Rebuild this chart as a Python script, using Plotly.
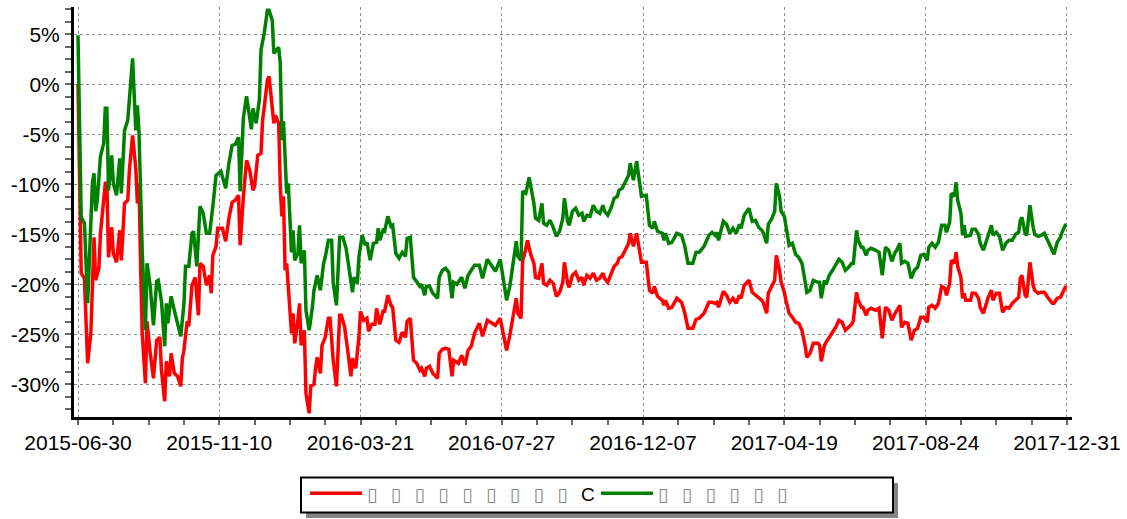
import plotly.graph_objects as go

# ---------------- data (x = trading-day index from 2015-06-30) ----------------
tick_days = [0, 88, 176, 264, 352, 440, 528, 616]
tick_labels = ["2015-06-30", "2015-11-10", "2016-03-21", "2016-07-27",
               "2016-12-07", "2017-04-19", "2017-08-24", "2017-12-31"]
y_ticks = [-30, -25, -20, -15, -10, -5, 0, 5]

BOX = '<span style="color:#8a8a8a">\u25af</span>'
SEP = "\u2002\u2009"
fund_name = (BOX + SEP) * 9 + "C"
bench_name = SEP.join([BOX] * 6)

fund_x = [0, 1, 2, 4, 5, 6, 8, 9, 10, 11,
          13, 14, 15, 17, 18, 19, 21, 22, 24, 26,
          27, 29, 31, 32, 34, 36, 37, 38, 39, 40,
          42, 43, 45, 47, 49, 51, 52, 54, 55, 57,
          58, 60, 62, 64, 65, 66, 68, 69, 71, 73,
          75, 76, 78, 80, 82, 83, 84, 86, 87, 90,
          92, 94, 96, 98, 100, 101, 103, 105, 107, 109,
          110, 112, 114, 115, 116, 118, 119, 120, 122, 123,
          125, 126, 127, 128, 129, 130, 132, 133, 134, 135,
          137, 138, 139, 141, 142, 144, 145, 147, 148, 149,
          151, 152, 154, 156, 157, 159, 161, 163, 164, 166,
          168, 170, 171, 173, 175, 176, 178, 180, 181, 183,
          185, 186, 188, 190, 191, 193, 195, 196, 198, 200,
          202, 204, 205, 207, 209, 211, 213, 214, 216, 217,
          219, 221, 224, 225, 227, 229, 231, 233, 234, 237,
          239, 241, 243, 245, 247, 250, 252, 255, 258, 260,
          263, 265, 267, 269, 271, 273, 274, 276, 277, 278,
          280, 282, 284, 285, 287, 289, 290, 292, 294, 296,
          298, 300, 302, 303, 305, 306, 308, 310, 312, 314,
          315, 317, 319, 321, 323, 325, 327, 328, 330, 332,
          334, 336, 337, 339, 341, 343, 344, 346, 348, 351,
          354, 356, 358, 359, 361, 364, 365, 366, 368, 370,
          373, 376, 378, 380, 383, 385, 387, 390, 393, 395,
          397, 398, 399, 402, 404, 406, 408, 410, 412, 413,
          415, 418, 420, 422, 424, 426, 427, 429, 430, 432,
          434, 435, 437, 438, 440, 441, 443, 445, 447, 449,
          451, 453, 454, 456, 458, 461, 462, 463, 465, 466,
          468, 470, 472, 474, 476, 478, 480, 482, 483, 485,
          486, 488, 489, 491, 492, 494, 497, 499, 501, 503,
          505, 507, 509, 510, 512, 513, 515, 517, 519, 521,
          523, 525, 527, 529, 530, 532, 534, 536, 538, 540,
          541, 543, 544, 546, 547, 548, 550, 551, 552, 553,
          556, 557, 559, 561, 562, 564, 566, 567, 569, 570,
          572, 574, 576, 578, 580, 582, 584, 586, 587, 588,
          590, 591, 593, 595, 596, 598, 600, 602, 604, 607,
          608, 610, 612, 613, 615, 616]
fund_ret = [0.0, -8.3, -18.9, -19.4, -23.2, -27.9, -24.9, -19.3, -15.3, -19.6,
            -18.4, -14.9, -13.2, -9.9, -9.9, -17.3, -14.3, -16.9, -17.8, -14.6,
            -17.6, -11.9, -11.6, -8.6, -5.1, -8.4, -11.9, -9.9, -18.2, -24.9,
            -29.9, -23.7, -26.9, -29.4, -25.6, -25.3, -28.6, -31.7, -27.7, -29.2,
            -26.9, -28.9, -29.2, -30.2, -27.4, -26.6, -23.7, -24.2, -20.1, -19.3,
            -23.1, -17.9, -18.2, -20.1, -19.1, -20.9, -17.1, -16.2, -14.4, -14.4,
            -15.7, -13.4, -11.8, -11.6, -11.1, -16.1, -11.3, -7.6, -8.6, -10.6,
            -10.2, -7.1, -6.9, -3.6, -2.3, 0.4, 0.8, -0.9, -3.9, -3.1,
            -3.9, -10.2, -13.2, -11.2, -18.6, -17.9, -22.9, -24.9, -22.9, -25.9,
            -23.6, -21.9, -26.1, -24.6, -30.9, -32.9, -30.2, -30.0, -28.4, -27.3,
            -28.9, -26.1, -25.3, -23.4, -23.4, -27.6, -30.2, -23.1, -23.1, -24.2,
            -26.6, -29.2, -27.4, -28.4, -25.3, -22.7, -23.6, -23.4, -24.7, -24.0,
            -24.0, -22.4, -24.0, -22.7, -22.7, -21.1, -22.1, -22.3, -25.6, -25.8,
            -24.8, -25.3, -23.7, -23.4, -27.6, -27.9, -28.6, -28.4, -29.2, -28.4,
            -28.2, -28.9, -29.4, -26.9, -26.5, -26.4, -26.5, -29.2, -27.6, -27.9,
            -27.1, -28.1, -26.6, -26.2, -24.9, -23.9, -25.2, -23.6, -23.9, -24.1,
            -23.4, -25.2, -26.6, -25.1, -23.4, -21.4, -22.9, -23.4, -17.6, -17.1,
            -15.6, -17.0, -17.9, -19.3, -19.4, -17.9, -19.9, -20.1, -19.6, -19.9,
            -21.2, -20.8, -19.8, -17.8, -19.9, -20.3, -19.1, -18.8, -19.6, -19.3,
            -20.1, -19.1, -19.4, -18.9, -19.6, -19.4, -18.9, -19.4, -19.8, -19.1,
            -18.2, -17.9, -17.4, -17.2, -16.6, -15.9, -14.9, -16.2, -14.9, -17.8,
            -17.8, -20.6, -20.9, -20.2, -21.2, -21.6, -22.1, -21.6, -22.4, -22.3,
            -21.4, -21.8, -22.9, -24.4, -24.4, -23.5, -23.4, -22.9, -21.8, -21.8,
            -21.9, -21.8, -22.3, -20.7, -21.1, -21.8, -21.4, -21.9, -21.1, -21.4,
            -20.1, -19.6, -20.8, -21.1, -21.3, -21.6, -21.9, -22.9, -20.9, -20.3,
            -19.6, -17.1, -18.6, -19.8, -20.8, -21.6, -22.9, -23.3, -23.8, -23.9,
            -24.6, -26.2, -27.3, -26.9, -25.9, -25.9, -26.1, -27.7, -26.1, -25.8,
            -25.3, -24.8, -24.3, -23.6, -23.8, -24.6, -24.3, -24.0, -23.6, -20.8,
            -21.6, -22.3, -22.3, -23.1, -22.6, -22.4, -22.6, -22.4, -25.4, -22.3,
            -22.6, -23.6, -22.9, -22.6, -22.1, -24.3, -23.8, -23.9, -25.6, -24.6,
            -24.4, -23.3, -23.3, -23.8, -22.3, -22.1, -22.4, -21.9, -20.2, -20.4,
            -21.1, -19.9, -17.6, -17.9, -16.8, -18.2, -19.3, -21.4, -20.9, -21.6,
            -21.6, -20.9, -20.9, -21.4, -22.3, -22.9, -21.8, -21.3, -20.6, -21.6,
            -20.9, -20.9, -22.8, -22.3, -22.4, -21.9, -21.6, -21.3, -19.4, -19.1,
            -21.1, -21.3, -17.8, -20.1, -20.6, -20.9, -20.8, -20.8, -21.3, -21.9,
            -21.9, -21.4, -21.3, -20.9, -20.3, -20.3]

bench_x = [0, 2, 4, 6, 9, 10, 11, 12, 14, 16,
           17, 18, 19, 21, 22, 24, 26, 27, 29, 31,
           34, 36, 37, 38, 40, 42, 43, 45, 47, 49,
           50, 52, 54, 55, 56, 58, 60, 62, 64, 66,
           67, 69, 71, 72, 74, 76, 78, 80, 82, 84,
           86, 89, 92, 94, 96, 98, 100, 101, 103, 105,
           108, 109, 111, 113, 114, 116, 118, 119, 121, 122,
           125, 126, 127, 128, 130, 131, 132, 133, 134, 135,
           137, 138, 139, 141, 142, 144, 146, 147, 149, 151,
           153, 154, 156, 158, 159, 161, 163, 165, 167, 169,
           171, 172, 174, 175, 177, 179, 180, 182, 184, 186,
           187, 188, 190, 191, 193, 195, 196, 198, 200, 202,
           204, 205, 207, 209, 211, 213, 214, 216, 217, 219,
           221, 224, 225, 227, 229, 231, 233, 234, 236, 239,
           241, 243, 245, 247, 250, 252, 255, 258, 260, 263,
           265, 267, 269, 271, 273, 274, 276, 277, 279, 281,
           282, 284, 285, 287, 289, 290, 292, 294, 296, 298,
           300, 302, 303, 305, 306, 308, 310, 312, 314, 315,
           317, 319, 321, 323, 325, 327, 328, 330, 332, 334,
           336, 337, 339, 341, 343, 344, 346, 348, 351, 354,
           356, 358, 359, 361, 364, 365, 366, 368, 370, 373,
           376, 378, 380, 383, 385, 387, 390, 393, 395, 397,
           398, 399, 402, 404, 406, 408, 410, 412, 413, 415,
           418, 420, 422, 424, 426, 427, 429, 430, 432, 434,
           435, 437, 438, 440, 441, 443, 445, 447, 449, 451,
           453, 454, 456, 458, 461, 462, 463, 465, 466, 468,
           470, 472, 474, 476, 478, 480, 482, 483, 485, 486,
           488, 489, 491, 492, 494, 497, 499, 501, 503, 505,
           507, 509, 510, 512, 513, 515, 517, 519, 521, 523,
           525, 527, 529, 530, 532, 534, 536, 538, 540, 541,
           543, 544, 546, 547, 548, 550, 551, 552, 553, 556,
           557, 559, 561, 562, 564, 566, 567, 569, 570, 572,
           574, 576, 578, 580, 582, 584, 586, 587, 588, 590,
           591, 593, 595, 596, 598, 600, 602, 604, 607, 608,
           610, 612, 613, 615, 616]
bench_ret = [4.9, -13.3, -13.9, -21.9, -9.8, -8.9, -12.7, -11.6, -7.2, -5.9,
             -2.4, -2.4, -10.6, -7.1, -9.9, -11.1, -7.4, -10.9, -4.6, -3.6,
             2.6, -4.6, -2.1, -4.9, -16.6, -24.6, -17.9, -20.2, -24.1, -19.7,
             -19.6, -21.7, -26.2, -21.9, -23.9, -21.2, -22.6, -24.1, -25.2, -21.9,
             -18.2, -18.2, -14.9, -14.7, -18.2, -12.2, -12.9, -14.9, -14.9, -12.2,
             -9.1, -8.7, -10.4, -7.9, -6.1, -6.0, -5.3, -10.7, -3.4, -1.2,
             -4.5, -2.4, -3.9, -1.5, 3.4, 5.1, 7.4, 7.4, 6.4, 3.1,
             3.7, 2.1, -5.6, -3.7, -10.9, -9.9, -14.3, -16.8, -14.6, -17.6,
             -16.9, -14.1, -17.9, -16.6, -22.6, -24.6, -22.3, -20.6, -19.1, -20.6,
             -17.9, -17.3, -15.6, -15.6, -19.9, -22.1, -15.3, -15.3, -16.4, -18.9,
             -20.8, -19.3, -19.9, -17.3, -15.1, -16.1, -15.8, -17.6, -15.9, -15.8,
             -14.4, -15.6, -14.6, -14.7, -13.2, -14.2, -14.1, -16.9, -17.4, -16.8,
             -17.2, -15.4, -15.3, -19.3, -19.7, -20.2, -20.0, -21.1, -20.2, -20.2,
             -20.9, -21.4, -19.3, -18.6, -18.4, -18.8, -21.4, -19.8, -20.0, -19.3,
             -20.4, -19.1, -18.6, -18.1, -18.1, -19.4, -17.5, -18.2, -18.7, -17.5,
             -19.8, -21.6, -20.2, -17.6, -15.7, -17.2, -17.6, -10.7, -10.9, -9.3,
             -10.2, -11.9, -13.4, -13.6, -11.9, -13.9, -14.1, -13.6, -14.3, -15.2,
             -14.7, -13.4, -11.4, -13.7, -14.1, -12.7, -12.4, -13.1, -12.9, -13.7,
             -13.1, -13.2, -12.1, -12.7, -12.9, -12.1, -12.7, -13.1, -12.4, -11.4,
             -11.2, -10.6, -10.4, -9.8, -9.1, -7.9, -9.6, -7.7, -11.2, -11.1,
             -14.1, -14.4, -13.7, -14.7, -14.9, -15.6, -14.9, -15.9, -15.8, -14.9,
             -15.1, -16.2, -17.9, -17.9, -16.8, -16.8, -16.2, -15.1, -14.8, -15.1,
             -14.8, -15.6, -13.7, -14.0, -14.9, -14.4, -14.9, -14.0, -14.4, -13.1,
             -12.4, -13.7, -13.6, -14.3, -14.6, -14.9, -15.9, -14.0, -13.5, -12.7,
             -9.9, -11.2, -12.7, -13.2, -14.3, -16.1, -15.9, -17.0, -17.3, -17.9,
             -19.8, -20.8, -20.6, -19.6, -19.8, -19.8, -21.4, -19.6, -20.0, -19.1,
             -18.6, -18.1, -17.5, -17.8, -18.6, -18.3, -17.9, -17.9, -14.6, -15.6,
             -16.3, -16.3, -17.1, -16.6, -16.4, -16.6, -16.8, -19.1, -16.3, -16.6,
             -17.7, -16.8, -16.6, -15.9, -17.9, -17.7, -17.9, -19.4, -18.6, -18.3,
             -17.1, -17.0, -17.6, -16.3, -15.9, -16.3, -15.8, -14.1, -14.1, -14.8,
             -13.8, -10.9, -11.2, -9.8, -11.6, -12.9, -15.1, -14.1, -15.2, -15.1,
             -14.5, -14.5, -15.0, -15.9, -16.6, -15.6, -15.0, -14.1, -15.1, -14.8,
             -15.2, -16.6, -15.9, -15.6, -15.6, -15.0, -14.8, -13.6, -13.3, -14.9,
             -15.1, -12.1, -14.3, -15.0, -15.2, -15.1, -14.9, -15.6, -16.8, -17.0,
             -15.8, -15.3, -14.8, -14.1, -14.1]

# ---------------- geometry helpers (pixel layout of the canvas) ----------------
W, H = 1127, 519
L, R, T, B = 74, 1072, 7, 417          # plot area in pixels
X_RANGE = [-2.49, 619.2]
Y_RANGE = [-33.27, 7.73]


def px_x(p):
    return (p - L) / (R - L)


def px_y(p):
    return (B - p) / (B - T)


FONT = "Liberation Sans, Arial, DejaVu Sans, sans-serif"

fig = go.Figure()
fig.add_trace(go.Scatter(x=fund_x, y=fund_ret, mode="lines", name=fund_name,
                         line=dict(color="#ff0000", width=3.5)))
fig.add_trace(go.Scatter(x=bench_x, y=bench_ret, mode="lines", name=bench_name,
                         line=dict(color="#008000", width=3.5)))

# legend frame with drop shadow
fig.add_shape(type="rect", xref="paper", yref="paper",
              x0=px_x(306), x1=px_x(898), y0=px_y(483), y1=px_y(518),
              fillcolor="#858585", line=dict(width=0), layer="above")
fig.add_shape(type="rect", xref="paper", yref="paper",
              x0=px_x(301), x1=px_x(893), y0=px_y(477.5), y1=px_y(512.5),
              fillcolor="white", line=dict(color="black", width=2), layer="above")

fig.update_layout(
    width=W, height=H,
    margin=dict(l=L, r=W - R, t=T, b=H - B, pad=0, autoexpand=False),
    paper_bgcolor="white", plot_bgcolor="white",
    font=dict(family=FONT, size=21, color="black"),
    showlegend=True,
    legend=dict(orientation="h", x=px_x(305), y=px_y(474.5), xanchor="left", yanchor="top",
                bgcolor="rgba(0,0,0,0)", borderwidth=0,
                font=dict(family=FONT, size=19, color="black"),
                itemwidth=52, entrywidth=224, entrywidthmode="pixels", tracegroupgap=0),
    xaxis=dict(range=X_RANGE, tickmode="array", tickvals=tick_days, ticktext=tick_labels,
               automargin=False,
               showline=True, linecolor="black", linewidth=3,
               ticks="outside", ticklen=5, tickwidth=1.5, tickcolor="#666666",
               showgrid=True, gridcolor="#8c8c8c", griddash="dot", gridwidth=1,
               zeroline=False, tickfont=dict(size=21),
               minor=dict(ticks="outside", ticklen=5, tickwidth=1.5, tickcolor="#666666",
                          tick0=0, dtick=22, showgrid=False)),
    yaxis=dict(range=Y_RANGE, tickmode="array", tickvals=y_ticks,
               ticktext=[f"{v}%" for v in y_ticks],
               automargin=False, ticklabelstandoff=1,
               showline=True, linecolor="black", linewidth=3,
               ticks="outside", ticklen=6, tickwidth=1.5, tickcolor="#666666",
               showgrid=True, gridcolor="#8c8c8c", griddash="dot", gridwidth=1,
               zeroline=False, tickfont=dict(size=21),
               minor=dict(ticks="outside", ticklen=6, tickwidth=1.5, tickcolor="#666666",
                          tick0=0, dtick=1.25, showgrid=False)),
)

fig.write_html("out.html", config={"displayModeBar": False},
               post_script="document.body.style.margin='0';")
